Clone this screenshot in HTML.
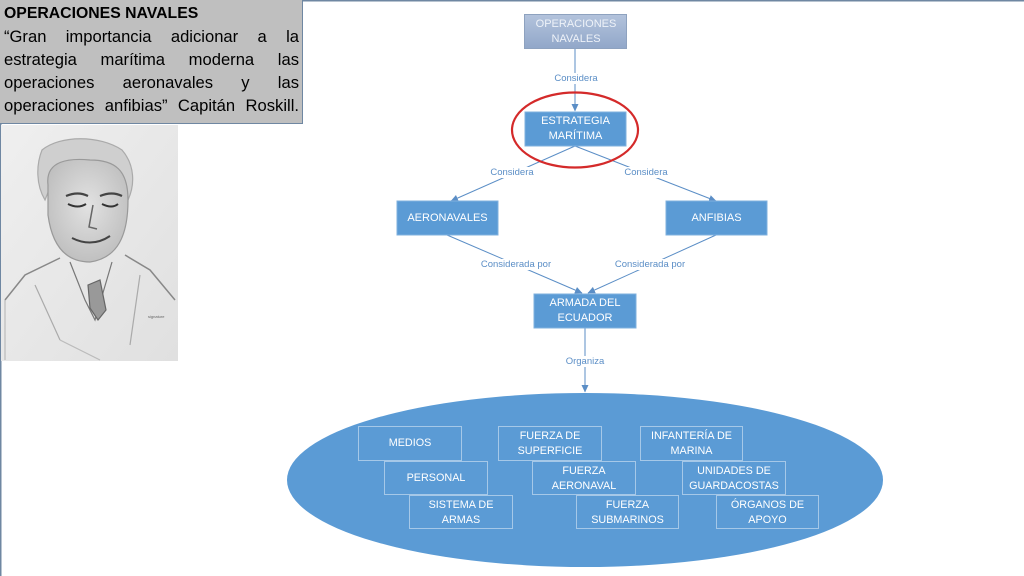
<!DOCTYPE html>
<html><head><meta charset="utf-8"><style>
html,body{margin:0;padding:0;background:#fff;}
body{width:1024px;height:576px;position:relative;overflow:hidden;font-family:"Liberation Sans",sans-serif;}
.quote{position:absolute;left:0;top:0;width:303px;height:124px;background:#bfbfbf;border-right:1px solid #6f87a2;border-bottom:1px solid #6f87a2;box-sizing:border-box;}
.quote .t{position:absolute;left:4px;top:5px;font-weight:bold;font-size:15.8px;color:#000;}
.quote .l{position:absolute;left:4px;width:295px;font-size:16.6px;color:#000;text-align:justify;text-align-last:justify;white-space:nowrap;}
.svgw{position:absolute;left:0;top:0;}
.n{position:absolute;color:#fff;font-size:11px;text-align:center;display:flex;align-items:center;justify-content:center;line-height:15px;}
.lab{position:absolute;color:#5b8ec6;font-size:9.5px;background:#fff;padding:0 1px;transform:translateX(-50%);}
.ib{position:absolute;color:#fff;font-size:10.8px;text-align:center;line-height:15px;border:1px solid rgba(255,255,255,0.45);box-sizing:border-box;padding-top:2px;}
</style></head><body>
<svg class="svgw" width="1024" height="576" viewBox="0 0 1024 576">
<defs>
<linearGradient id="g1" x1="0" y1="0" x2="0" y2="1"><stop offset="0" stop-color="#b3c3dc"/><stop offset="1" stop-color="#91a7c9"/></linearGradient>
<linearGradient id="pg" x1="0" y1="0" x2="1" y2="1"><stop offset="0" stop-color="#efefef"/><stop offset="1" stop-color="#e0e0e0"/></linearGradient>
<radialGradient id="face" cx="0.5" cy="0.45" r="0.6"><stop offset="0" stop-color="#e2e2e2"/><stop offset="1" stop-color="#bdbdbd"/></radialGradient>
<marker id="ar" markerWidth="8" markerHeight="8" refX="7" refY="4" orient="auto" markerUnits="userSpaceOnUse"><path d="M0,0.5 L7.5,4 L0,7.5 z" fill="#5b8ec6"/></marker>
</defs>
<line x1="0" y1="0.5" x2="1024" y2="0.5" stroke="#6f87a2" stroke-width="2"/>
<line x1="0.5" y1="0" x2="0.5" y2="576" stroke="#6f87a2" stroke-width="2"/>
<!-- portrait -->
<rect x="1" y="125" width="177" height="236" fill="url(#pg)"/>
<g fill="none" stroke="#777" stroke-width="1.2">
<path d="M42,150 C60,135 100,135 122,150 C135,165 135,185 128,200 L120,175 C105,160 70,160 55,175 L45,200 C36,185 36,165 42,150 Z" fill="#cfcfcf" stroke="#aaa"/>
<path d="M48,185 C45,160 70,158 90,160 C115,160 128,170 128,200 C128,235 118,258 90,262 C65,262 52,245 48,215 Z" fill="url(#face)" stroke="#999"/>
<path d="M66,196 q12,-5 22,0 M100,196 q12,-5 22,0" stroke="#444" stroke-width="2.2"/>
<path d="M68,204 q10,5 18,0 M102,204 q10,5 16,0" stroke="#333" stroke-width="2"/>
<path d="M93,205 l-4,22 l8,2" stroke="#666" stroke-width="1.5"/>
<path d="M72,238 q20,10 38,-2" stroke="#444" stroke-width="2"/>
<path d="M60,258 L25,275 L5,300 M125,255 L150,270 L175,300" stroke="#888" stroke-width="1.5"/>
<path d="M70,262 L85,300 L95,320 L112,262" stroke="#777"/>
<path d="M88,285 l12,-5 l6,30 l-8,10 l-8,-12 z" fill="#999" stroke="#666"/>
<path d="M35,285 L60,340 M140,275 L130,345" stroke="#aaa"/>
<path d="M5,300 L5,360 M60,340 L100,360" stroke="#bbb"/>
</g>
<text x="148" y="318" font-size="4" fill="#666" font-family="Liberation Sans">signature</text>
<!-- connectors -->
<line x1="575" y1="48" x2="575" y2="111" stroke="#5b8ec6" stroke-width="1" marker-end="url(#ar)"/>
<line x1="575" y1="146" x2="451" y2="201" stroke="#5b8ec6" stroke-width="1" marker-end="url(#ar)"/>
<line x1="575" y1="146" x2="716" y2="201" stroke="#5b8ec6" stroke-width="1" marker-end="url(#ar)"/>
<line x1="447" y1="235" x2="582" y2="293" stroke="#5b8ec6" stroke-width="1" marker-end="url(#ar)"/>
<line x1="716" y1="235" x2="588" y2="293" stroke="#5b8ec6" stroke-width="1" marker-end="url(#ar)"/>
<line x1="585" y1="328" x2="585" y2="392" stroke="#5b8ec6" stroke-width="1" marker-end="url(#ar)"/>
<!-- boxes -->
<rect x="524.5" y="14.5" width="102" height="34" fill="url(#g1)" stroke="#8ea2bf"/>
<rect x="525" y="112" width="101" height="34" fill="#5b9bd5" stroke="#7fb0de"/>
<rect x="397" y="201" width="101" height="34" fill="#5b9bd5" stroke="#7fb0de"/>
<rect x="666" y="201" width="101" height="34" fill="#5b9bd5" stroke="#7fb0de"/>
<rect x="534" y="294" width="102" height="34" fill="#5b9bd5" stroke="#7fb0de"/>
<ellipse cx="575" cy="130" rx="63" ry="37.5" fill="none" stroke="#d42a2a" stroke-width="2.2"/>
<ellipse cx="585" cy="480" rx="298" ry="87" fill="#5b9bd5"/>
</svg>

<div class="quote">
<div class="t">OPERACIONES NAVALES</div>
<div class="l" style="top:27px">“Gran importancia adicionar a la</div>
<div class="l" style="top:50px">estrategia marítima moderna las</div>
<div class="l" style="top:73px">operaciones aeronavales y las</div>
<div class="l" style="top:96px">operaciones anfibias” Capitán Roskill.</div>
</div>

<div class="n" style="left:525px;top:15px;width:102px;height:34px;color:#eef2f8;">OPERACIONES<br>NAVALES</div>
<div class="n" style="left:525px;top:112px;width:101px;height:34px;">ESTRATEGIA<br>MARÍTIMA</div>
<div class="n" style="left:397px;top:201px;width:101px;height:34px;">AERONAVALES</div>
<div class="n" style="left:666px;top:201px;width:101px;height:34px;">ANFIBIAS</div>
<div class="n" style="left:534px;top:294px;width:102px;height:34px;">ARMADA DEL<br>ECUADOR</div>

<div class="lab" style="left:576px;top:73px;">Considera</div>
<div class="lab" style="left:512px;top:167px;">Considera</div>
<div class="lab" style="left:646px;top:167px;">Considera</div>
<div class="lab" style="left:516px;top:259px;">Considerada por</div>
<div class="lab" style="left:650px;top:259px;">Considerada por</div>
<div class="lab" style="left:585px;top:356px;">Organiza</div>

<div class="ib" style="left:358px;top:426px;width:104px;height:35px;padding-top:9px;">MEDIOS</div>
<div class="ib" style="left:384px;top:461px;width:104px;height:34px;padding-top:9px;">PERSONAL</div>
<div class="ib" style="left:409px;top:495px;width:104px;height:34px;">SISTEMA DE<br>ARMAS</div>
<div class="ib" style="left:498px;top:426px;width:104px;height:35px;">FUERZA DE<br>SUPERFICIE</div>
<div class="ib" style="left:532px;top:461px;width:104px;height:34px;">FUERZA<br>AERONAVAL</div>
<div class="ib" style="left:576px;top:495px;width:103px;height:34px;">FUERZA<br>SUBMARINOS</div>
<div class="ib" style="left:640px;top:426px;width:103px;height:35px;">INFANTERÍA DE<br>MARINA</div>
<div class="ib" style="left:682px;top:461px;width:104px;height:34px;">UNIDADES DE<br>GUARDACOSTAS</div>
<div class="ib" style="left:716px;top:495px;width:103px;height:34px;">ÓRGANOS DE<br>APOYO</div>
</body></html>
